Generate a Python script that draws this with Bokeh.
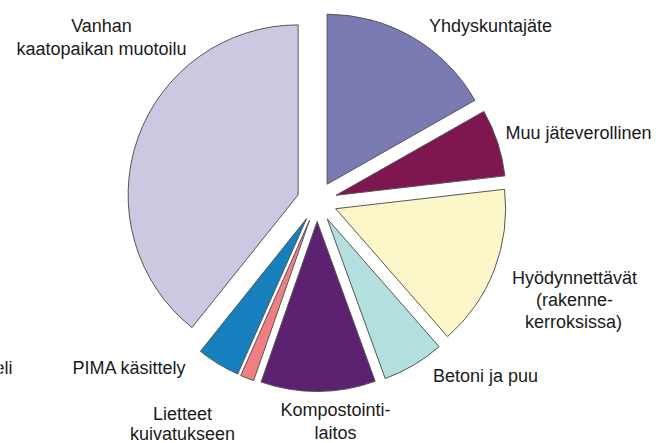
import numpy as np
from bokeh.plotting import figure
from bokeh.models import Range1d, ColumnDataSource
from bokeh.embed import file_html
from bokeh.resources import INLINE
from bokeh.core.properties import value

# --- data (shares in %, clockwise from 12 o'clock) ---
categories = ["Yhdyskuntajäte", "Muu jäteverollinen", "Hyödynnettävät (rakennekerroksissa)",
              "Betoni ja puu", "Kompostointilaitos", "Lietteet kuivatukseen",
              "PIMA käsittely", "Vanhan kaatopaikan muotoilu"]
shares = [16.8, 6.4, 15.4, 5.9, 10.9, 1.3, 4.1, 39.3]
colors = ["#7B7BB4", "#7E1650", "#FBF7C9", "#B3E0DF", "#5C2170", "#F07F84", "#1580BD", "#CCC8E2"]

# label texts (one entry per text line)
label_lines = ["Vanhan", "kaatopaikan muotoilu", "Yhdyskuntajäte", "Muu jäteverollinen",
               "Hyödynnettävät", "(rakenne-", "kerroksissa)", "Betoni ja puu",
               "Kompostointi-", "laitos", "Lietteet", "kuivatukseen", "PIMA käsittely", "eli"]

# --- layout (pixel coordinates of the reference picture) ---
W, H = 659, 443
label_x = [101, 101, 490, 578, 574, 574, 573, 485, 335, 335, 182, 182, 129, 12]
label_base = [31, 54, 31, 138, 283, 305, 327, 381, 415, 438, 419, 439, 373, 373]
label_align = ["center"] * 13 + ["right"]
baseline_shift = 6

cx, cy = 316.5, H - 201
radius = 170
explode = 20

vals = np.array(shares, dtype=float)
deg = vals / vals.sum() * 360.0
cum = np.cumsum(deg)
t1 = cum - deg
t2 = cum
mid = np.radians((t1 + t2) / 2)

src = ColumnDataSource(dict(
    x=cx + explode * np.sin(mid),
    y=cy + explode * np.cos(mid),
    start=np.radians(90 - t2),
    end=np.radians(90 - t1),
    color=colors,
    name=categories,
))

p = figure(width=W, height=H, output_backend="svg", toolbar_location=None,
           x_range=Range1d(0, W), y_range=Range1d(0, H),
           x_axis_type=None, y_axis_type=None, min_border=0)
p.grid.visible = False
p.outline_line_color = None
p.background_fill_color = "white"

p.wedge(x="x", y="y", radius=radius, start_angle="start", end_angle="end",
        direction="anticlock", fill_color="color", line_color="#555555",
        line_width=1, source=src)

lsrc = ColumnDataSource(dict(x=label_x, y=[H - b + baseline_shift for b in label_base],
                             text=label_lines, align=label_align))
p.text(x="x", y="y", text="text", text_align="align", text_baseline="alphabetic",
       text_font=value("Liberation Sans"), text_font_size="18px",
       text_color="#1a1a1a", source=lsrc)

open("out.html", "w").write(file_html(p, INLINE))
